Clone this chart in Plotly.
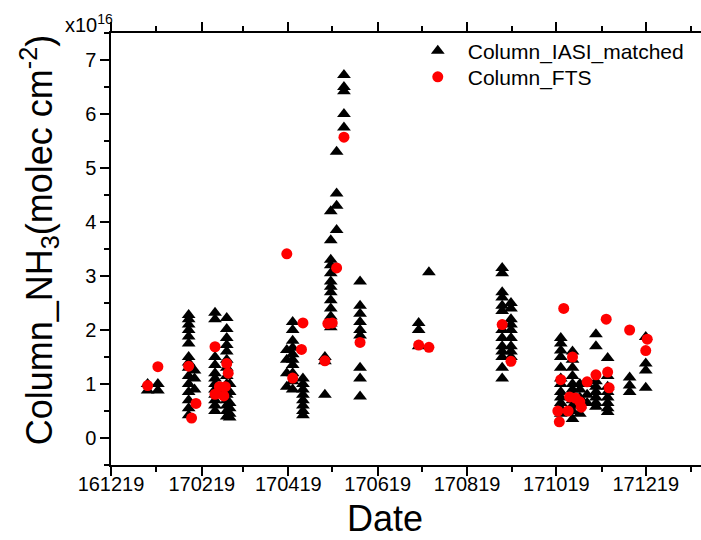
import plotly.graph_objects as go

# ---------------- data ----------------
iasi_group_dates = [
    "2017-01-13", "2017-01-20", "2017-02-10", "2017-02-14", "2017-02-28",
    "2017-03-08", "2017-03-10", "2017-04-18", "2017-04-22", "2017-04-29",
    "2017-05-14", "2017-05-18", "2017-05-22", "2017-05-27", "2017-06-07",
    "2017-07-17", "2017-07-24", "2017-09-12", "2017-09-18", "2017-10-22",
    "2017-10-30", "2017-11-04", "2017-11-09", "2017-11-15", "2017-11-23",
    "2017-12-08", "2017-12-19",
]
iasi_group_values = [
    [1.0, 0.88],
    [1.0, 0.88],
    [2.28, 2.2, 2.1, 2.0, 1.88, 1.75, 1.5, 1.4, 1.3, 1.15, 1.0, 0.85, 0.7, 0.55, 0.42],
    [1.25, 1.1, 0.9],
    [2.32, 2.2, 1.5, 1.35, 1.2, 1.1, 1.0, 0.9, 0.8, 0.7, 0.6, 0.5],
    [2.22, 2.02, 1.85, 1.72, 1.6, 1.45, 1.3, 1.15, 1.0, 0.9, 0.8, 0.7, 0.6, 0.5, 0.4],
    [1.0, 0.85, 0.65, 0.55, 0.45, 0.38],
    [1.63, 1.45, 1.2, 0.95],
    [2.15, 2.0, 1.8, 1.67, 1.55, 1.45, 1.35, 1.2, 1.05, 0.9],
    [1.1, 1.0, 0.9, 0.8, 0.7, 0.6, 0.5, 0.42],
    [1.5, 1.42, 0.8],
    [4.2, 3.66, 3.3, 3.2, 3.05, 2.9, 2.8, 2.7, 2.55, 2.4, 2.25, 2.12, 2.05],
    [5.3, 4.53, 4.3, 3.85],
    [6.72, 6.5, 6.42, 6.0, 5.75],
    [2.9, 2.45, 2.3, 2.15, 2.0, 1.9, 1.3, 1.1, 0.77],
    [2.13, 2.0, 1.7],
    [3.07],
    [3.15, 3.05, 2.7, 2.6, 2.45, 2.35, 2.0, 1.85, 1.7, 1.6, 1.5, 1.3, 1.1],
    [2.5, 2.4, 2.2, 2.1, 2.0, 1.85, 1.7, 1.6, 1.5],
    [1.85, 1.75, 1.62, 1.5, 1.3, 1.1, 1.0, 0.85, 0.75, 0.65, 0.55, 0.45],
    [1.6, 1.45, 1.3, 1.15, 1.0, 0.9, 0.8, 0.7, 0.6, 0.5, 0.35],
    [1.0, 0.9, 0.75, 0.6, 0.45],
    [1.0, 0.8, 0.65],
    [1.92, 1.7, 1.05, 0.95, 0.85, 0.75, 0.65, 0.58],
    [1.48, 1.15, 0.95, 0.85, 0.75, 0.65, 0.55, 0.48],
    [1.12, 0.97, 0.85],
    [1.87, 1.38, 1.25, 0.93],
]

fts_dates = [
    "2017-01-13", "2017-01-20", "2017-02-10", "2017-02-12", "2017-02-15",
    "2017-02-28", "2017-03-08", "2017-03-09", "2017-03-03", "2017-03-07",
    "2017-02-28", "2017-03-06", "2017-04-18", "2017-04-22", "2017-04-29",
    "2017-04-28", "2017-05-14", "2017-05-16", "2017-05-19", "2017-05-22",
    "2017-05-27", "2017-06-07", "2017-07-17", "2017-07-24", "2017-09-12",
    "2017-09-18", "2017-10-20", "2017-10-21", "2017-10-22", "2017-10-24",
    "2017-10-27", "2017-10-28", "2017-10-30", "2017-11-01", "2017-11-04",
    "2017-11-05", "2017-11-09", "2017-11-15", "2017-11-22", "2017-11-23",
    "2017-11-24", "2017-12-08", "2017-12-19", "2017-12-20",
]
fts_values = [
    0.97, 1.32, 1.33, 0.37, 0.64,
    1.69, 1.38, 1.2, 0.95, 0.95,
    0.81, 0.78, 3.41, 1.11, 2.13,
    1.64, 1.43, 2.12, 2.13, 3.15,
    5.57, 1.77, 1.72, 1.68, 2.1,
    1.42, 0.5, 0.3, 1.08, 2.4,
    0.5, 0.76, 1.5, 0.74, 0.67,
    0.57, 1.04, 1.17, 2.2, 1.22,
    0.93, 2.0, 1.62, 1.83,
]

tick_dates = ["2016-12-19", "2017-02-19", "2017-04-19", "2017-06-19",
              "2017-08-19", "2017-10-19", "2017-12-19"]
tick_labels = ["161219", "170219", "170419", "170619", "170819", "171019", "171219"]
minor_tick_dates = ["2017-01-19", "2017-03-19", "2017-05-19", "2017-07-19",
                    "2017-09-19", "2017-11-19", "2018-01-19"]
x_range = ["2016-12-19", "2018-01-25 17:00"]
y_range = [-0.5, 7.5]

# flatten IASI groups
iasi_dates, iasi_values = [], []
for d, vals in zip(iasi_group_dates, iasi_group_values):
    for v in vals:
        iasi_dates.append(d)
        iasi_values.append(v)

FONT = "Liberation Sans, Arial, sans-serif"

fig = go.Figure()
fig.add_trace(go.Scatter(
    x=iasi_dates, y=iasi_values, mode="markers", name="Column_IASI_matched",
    marker=dict(symbol="triangle-up", size=12, color="black", line=dict(width=0)),
    legend="legend",
))
fig.add_trace(go.Scatter(
    x=fts_dates, y=fts_values, mode="markers", name="Column_FTS",
    marker=dict(symbol="circle", size=11, color="#ff0000", line=dict(width=0)),
    legend="legend2",
))

legend_common = dict(
    xanchor="left", yanchor="top",
    font=dict(size=21, family=FONT), itemwidth=50,
    bgcolor="rgba(0,0,0,0)", borderwidth=0,
)

fig.update_layout(
    width=701, height=540,
    margin=dict(l=111, r=0, t=33, b=75),
    paper_bgcolor="white", plot_bgcolor="white",
    font=dict(family=FONT, color="black"),
    showlegend=True,
    legend=dict(x=0.503, y=1.0053, **legend_common),
    legend2=dict(x=0.503, y=0.9451, **legend_common),
    xaxis=dict(
        type="date", range=x_range,
        tickmode="array", tickvals=tick_dates, ticktext=tick_labels,
        ticks="outside", ticklen=9, tickwidth=1.5, tickcolor="black",
        tickfont=dict(size=20, family=FONT), ticklabelstandoff=-9,
        minor=dict(tickmode="array", tickvals=minor_tick_dates,
                   ticks="outside", ticklen=5, tickwidth=1.5, tickcolor="black"),
        showline=True, linecolor="black", linewidth=1.5, mirror="ticks",
        showgrid=False, zeroline=False,
    ),
    yaxis=dict(
        range=y_range, tickmode="linear", tick0=0, dtick=1,
        ticks="outside", ticklen=9, tickwidth=1.5, tickcolor="black",
        tickfont=dict(size=20, family=FONT),
        minor=dict(dtick=0.5, tick0=0, ticks="outside", ticklen=5,
                   tickwidth=1.5, tickcolor="black"),
        showline=True, linecolor="black", linewidth=1.5, mirror=False,
        showgrid=False, zeroline=False,
    ),
    annotations=[
        dict(text="Date", xref="paper", yref="paper", x=0.464, y=0,
             xanchor="center", yanchor="middle", yshift=-53, showarrow=False,
             font=dict(size=36, family=FONT)),
        dict(text="Column_NH<sub>3</sub>(molec cm<sup>-2</sup>)",
             xref="paper", yref="paper", x=0, y=0.52, xshift=-72,
             xanchor="center", yanchor="middle", textangle=-90, showarrow=False,
             font=dict(size=36, family=FONT)),
        dict(text="x10<sup>16</sup>", xref="paper", yref="paper", x=0, y=1,
             xanchor="right", yanchor="bottom", xshift=4, yshift=-5,
             showarrow=False, font=dict(size=20, family=FONT)),
    ],
)

fig.write_html("out.html")
